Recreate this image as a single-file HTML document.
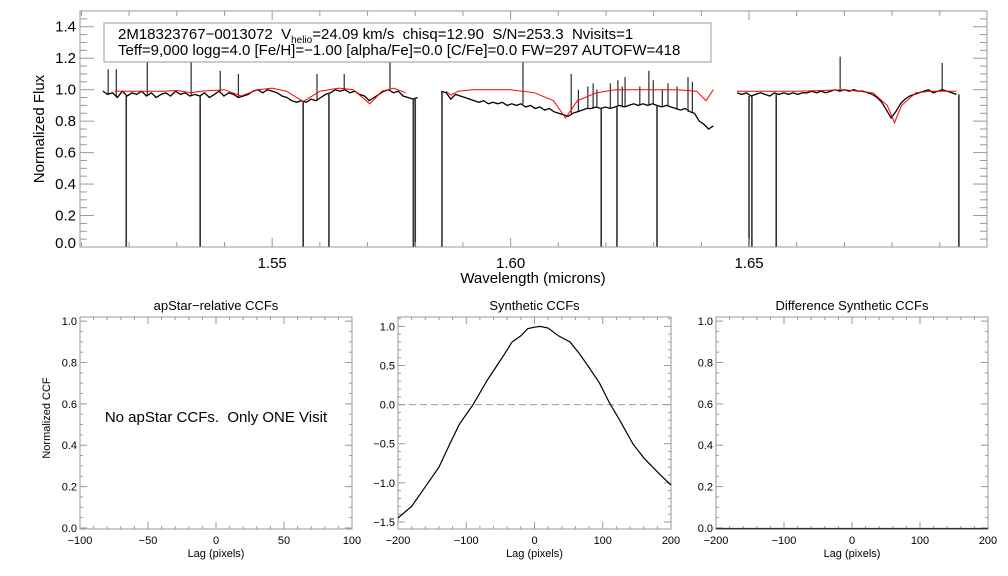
<!DOCTYPE html>
<html><head><meta charset="utf-8"><style>
body{margin:0;background:#fff;}
svg{display:block;font-family:"Liberation Sans",sans-serif;}
text{white-space:pre;}
</style></head><body>
<svg id="c" width="1008" height="576" viewBox="0 0 1008 576"></svg>
<script>
// ---- top spectrum data ----
const seg1Start=1.5145, seg1End=1.5805;
const seg1Flux=[0.99,0.97,0.98,0.95,0.99,0.96,0.98,0.97,0.99,0.96,0.98,0.95,0.97,0.98,0.96,0.99,0.97,0.98,0.96,0.97,0.96,0.98,0.95,0.97,0.99,0.96,0.98,0.97,0.95,0.96,0.97,0.99,1.00,0.98,1.00,0.99,0.98,0.96,0.95,0.93,0.92,0.93,0.92,0.94,0.93,0.95,0.97,0.98,1.00,0.99,1.00,0.98,0.99,0.97,0.96,0.93,0.95,0.97,0.99,1.00,0.98,0.99,0.96,0.95,0.94,0.95];
const seg2Start=1.5855, seg2End=1.6425;
const seg2Flux=[0.99,0.98,0.94,0.97,0.96,0.95,0.94,0.93,0.92,0.93,0.91,0.92,0.91,0.92,0.90,0.91,0.90,0.91,0.89,0.90,0.88,0.89,0.87,0.88,0.86,0.85,0.84,0.83,0.85,0.86,0.87,0.88,0.88,0.89,0.88,0.89,0.88,0.89,0.90,0.89,0.90,0.91,0.90,0.91,0.90,0.91,0.90,0.89,0.90,0.89,0.88,0.87,0.88,0.86,0.85,0.80,0.78,0.75,0.77];
const seg3Start=1.6475, seg3End=1.6935;
const seg3Flux=[0.98,0.97,0.98,0.96,0.97,0.98,0.97,0.96,0.98,0.97,0.98,0.97,0.98,0.97,0.98,0.98,0.99,0.98,0.99,0.98,0.99,1.00,0.99,1.00,0.99,1.00,0.99,0.99,0.98,0.97,0.95,0.92,0.87,0.82,0.86,0.91,0.94,0.96,0.97,0.98,0.99,1.00,0.98,0.99,1.00,0.99,0.98,0.97];
const spikeWl=[1.5156,1.5173,1.5238,1.5330,1.5391,1.5429,1.5594,1.5651,1.5747,1.6026,1.6127,1.6142,1.6162,1.6173,1.6181,1.6209,1.6225,1.6234,1.6240,1.6271,1.6290,1.6299,1.6318,1.6330,1.6349,1.6372,1.6381,1.6691,1.6905];
const spikeFlux=[1.13,1.13,1.30,1.25,1.12,1.10,1.10,1.10,1.20,1.25,1.10,1.00,1.02,1.04,1.00,1.04,1.06,1.02,1.08,1.02,1.12,1.06,1.00,1.04,1.02,1.08,1.05,1.21,1.17];
const dropWl=[1.5194,1.5349,1.5565,1.5619,1.5796,1.5800,1.5856,1.6190,1.6223,1.6307,1.6500,1.6506,1.6557,1.6940];
const model1Wl=[1.517,1.522,1.527,1.530,1.533,1.535,1.540,1.5435,1.547,1.550,1.553,1.5565,1.560,1.564,1.567,1.5705,1.573,1.5755,1.578];
const model1Flux=[0.99,0.99,0.99,0.995,0.98,0.99,1.0,0.96,1.0,1.01,0.99,0.925,0.99,1.01,1.0,0.91,0.99,1.01,0.98];
const model2Wl=[1.5865,1.5875,1.589,1.592,1.600,1.605,1.609,1.6115,1.614,1.618,1.622,1.635,1.639,1.641,1.6425];
const model2Flux=[0.99,0.965,0.99,1.0,1.0,0.98,0.93,0.82,0.93,0.98,1.0,1.0,0.99,0.93,1.0];
const model3Wl=[1.6475,1.660,1.670,1.676,1.679,1.6805,1.682,1.685,1.688,1.6935];
const model3Flux=[0.99,0.99,1.0,0.98,0.90,0.79,0.90,0.98,0.99,0.99];
const topXTicks=["1.55","1.60","1.65"];
const topYTicks=["0.0","0.2","0.4","0.6","0.8","1.0","1.2","1.4"];
// ---- CCF data ----
const ccfLag=[-200,-180,-160,-140,-124,-110,-90,-70,-55,-40,-33,-20,-10,0,8,20,35,52,65,78,95,110,125,144,160,180,200];
const ccfVal=[-1.45,-1.3,-1.05,-0.8,-0.5,-0.25,0,0.3,0.5,0.7,0.8,0.88,0.97,0.99,1.0,0.98,0.88,0.8,0.66,0.5,0.28,0.02,-0.2,-0.5,-0.68,-0.86,-1.03];
const diffLag=[-200,200];
const diffVal=[-0.003,-0.003];
const p1XTicks=["-100","-50","0","50","100"];
const p23XTicks=["-200","-100","0","100","200"];
const p13YTicks=["0.0","0.2","0.4","0.6","0.8","1.0"];
const p2YTicks=["-1.5","-1.0","-0.5","0.0","0.5","1.0"];

const svgRoot=document.getElementById('c');
const NS='http://www.w3.org/2000/svg';
function mk(tag,attrs,parent){const e=document.createElementNS(NS,tag);for(const k in attrs)e.setAttribute(k,attrs[k]);(parent||svgRoot).appendChild(e);return e;}
function lin(d0,d1,r0,r1){return v=>r0+(v-d0)*(r1-r0)/(d1-d0);}

// ---- Top panel ----
const TL=80,TR=987,TT=11,TB=247;
const tx=lin(1.5097,1.6999,TL,TR), ty=lin(0,1.5,TB,TT);
const topG=mk('g',{});


function series(wl0,wl1,arr){let pts=[];const n=arr.length;for(let i=0;i<n;i++){const w=wl0+(wl1-wl0)*i/(n-1);pts.push(tx(w).toFixed(1)+','+ty(arr[i]).toFixed(1));}return pts.join(' ');}
[[seg1Start,seg1End,seg1Flux],[seg2Start,seg2End,seg2Flux],[seg3Start,seg3End,seg3Flux]].forEach((s,i)=>{
  const p=mk('polyline',{points:series(s[0],s[1],s[2]),fill:'none',stroke:'#000','stroke-width':1.3},topG);
  
  
});
function nearFlux(w){const segs=[[seg1Start,seg1End,seg1Flux],[seg2Start,seg2End,seg2Flux],[seg3Start,seg3End,seg3Flux]];for(const s of segs){if(w>=s[0]-0.001&&w<=s[1]+0.001){const n=s[2].length;let i=Math.round((w-s[0])/(s[1]-s[0])*(n-1));i=Math.max(0,Math.min(n-1,i));return s[2][i];}}return 0.97;}
spikeWl.forEach((w,i)=>{
  const l=mk('line',{x1:tx(w),x2:tx(w),y1:ty(nearFlux(w)),y2:ty(spikeFlux[i]),stroke:'#000','stroke-width':1},topG);
  
  
});
dropWl.forEach(w=>{
  const l=mk('line',{x1:tx(w),x2:tx(w),y1:ty(nearFlux(w)),y2:ty(0),stroke:'#333','stroke-width':1.6},topG);
  
  
});
[[model1Wl,model1Flux],[model2Wl,model2Flux],[model3Wl,model3Flux]].forEach((m,i)=>{
  const p=mk('polyline',{points:m[0].map((w,j)=>tx(w).toFixed(1)+','+ty(m[1][j]).toFixed(1)).join(' '),fill:'none',stroke:'#f00','stroke-width':1},topG);
  
  
});
const tb=mk('rect',{x:TL,y:TT,width:TR-TL,height:TB-TT,fill:'none',stroke:'#999','stroke-width':1});


for(let k=151;k<=169;k++){const w=k/100;const maj=(k%5===0);const x=tx(w);
  mk('line',{x1:x,x2:x,y1:TB,y2:TB-(maj?9:5),stroke:'#999'});mk('line',{x1:x,x2:x,y1:TT,y2:TT+(maj?9:5),stroke:'#999'});}
topXTicks.forEach(t=>{const e=mk('text',{x:tx(parseFloat(t)),y:268,'font-size':15,'text-anchor':'middle',fill:'#000'});e.textContent=t;
  
  });
for(let k=0;k<=29;k++){const v=k*0.05;const maj=(k%4===0);const y=ty(v);
  mk('line',{x1:TL,x2:TL+(maj?14:7),y1:y,y2:y,stroke:'#999'});mk('line',{x1:TR,x2:TR-(maj?14:7),y1:y,y2:y,stroke:'#999'});}
topYTicks.forEach(t=>{const v=parseFloat(t);const e=mk('text',{x:76,y:Math.min(ty(v)+5,248),'font-size':15,'text-anchor':'end',fill:'#000'});e.textContent=t;
  
  });
let e=mk('text',{x:533,y:283,'font-size':15,'text-anchor':'middle'});e.textContent='Wavelength (microns)';


e=mk('text',{x:44,y:129,'font-size':15,'text-anchor':'middle',transform:'rotate(-90 44 129)'});e.textContent='Normalized Flux';


const ib=mk('g',{});


mk('rect',{x:104,y:23,width:607,height:39,fill:'#fff',stroke:'#999'},ib);
e=mk('text',{x:118,y:39,'font-size':15},ib);


e.appendChild(document.createTextNode('2M18323767−0013072  V'));
let ts=mk('tspan',{'font-size':10,dy:4},e);ts.textContent='helio';
ts=mk('tspan',{dy:-4},e);ts.textContent='=24.09 km/s  chisq=12.90  S/N=253.3  Nvisits=1';
e=mk('text',{x:118,y:55,'font-size':15},ib);
e.textContent='Teff=9,000 logg=4.0 [Fe/H]=−1.00 [alpha/Fe]=0.0 [C/Fe]=0.0 FW=297 AUTOFW=418';



// ---- Bottom panels ----
function panel(name,L,R,T,B,xd,yd,xt,yt,xmin,ymin,title){
  const g=mk('g',{});
  
  
  const fx=lin(xd[0],xd[1],L,R), fy=lin(yd[0],yd[1],B,T);
  mk('rect',{x:L,y:T,width:R-L,height:B-T,fill:'none',stroke:'#999'},g);
  for(let k=Math.ceil(xd[0]/xmin);k*xmin<=xd[1]+1e-9;k++){const v=k*xmin;const x=fx(v);const maj=xt.some(t=>Math.abs(parseFloat(t)-v)<1e-6);
    mk('line',{x1:x,x2:x,y1:B,y2:B-(maj?7:3),stroke:'#999'},g);mk('line',{x1:x,x2:x,y1:T,y2:T+(maj?7:3),stroke:'#999'},g);}
  xt.forEach(t=>{const e=mk('text',{x:fx(parseFloat(t)),y:B+15,'font-size':11,'text-anchor':'middle'},g);e.textContent=t.replace('-','−');
    
    });
  for(let k=Math.ceil(yd[0]/ymin);k*ymin<=yd[1]+1e-9;k++){const v=k*ymin;const y=fy(v);const maj=yt.some(t=>Math.abs(parseFloat(t)-v)<1e-6);
    mk('line',{x1:L,x2:L+(maj?7:3),y1:y,y2:y,stroke:'#999'},g);mk('line',{x1:R,x2:R-(maj?7:3),y1:y,y2:y,stroke:'#999'},g);}
  yt.forEach(t=>{const e=mk('text',{x:L-3,y:fy(parseFloat(t))+4,'font-size':11,'text-anchor':'end'},g);e.textContent=t.replace('-','−');
    
    });
  let e=mk('text',{x:(L+R)/2,y:310,'font-size':13,'text-anchor':'middle'},g);e.textContent=title;
  
  
  e=mk('text',{x:(L+R)/2,y:557,'font-size':11,'text-anchor':'middle'},g);e.textContent='Lag (pixels)';
  
  
  return {g,fx,fy};
}
const p1=panel('apstar-ccf-panel',80,352,317,529,[-100,100],[-0.005,1.02],p1XTicks,p13YTicks,10,0.05,'apStar−relative CCFs');
e=mk('text',{x:216,y:422,'font-size':15,'text-anchor':'middle'},p1.g);e.textContent='No apStar CCFs.  Only ONE Visit';


e=mk('text',{x:50,y:418,'font-size':11,'text-anchor':'middle',transform:'rotate(-90 50 418)'});e.textContent='Normalized CCF';



const p2=panel('synthetic-ccf-panel',398,671,317,529,[-200,200],[-1.59,1.12],p23XTicks,p2YTicks,20,0.1,'Synthetic CCFs');
e=mk('line',{x1:398,x2:671,y1:p2.fy(0),y2:p2.fy(0),stroke:'#999','stroke-dasharray':'7,4'},p2.g);


e=mk('polyline',{points:ccfLag.map((l,i)=>p2.fx(l).toFixed(1)+','+p2.fy(ccfVal[i]).toFixed(1)).join(' '),fill:'none',stroke:'#000','stroke-width':1.2},p2.g);



const p3=panel('difference-ccf-panel',716,988,317,529,[-200,200],[-0.005,1.02],p23XTicks,p13YTicks,20,0.05,'Difference Synthetic CCFs');
e=mk('polyline',{points:diffLag.map((l,i)=>p3.fx(l).toFixed(1)+','+p3.fy(diffVal[i]).toFixed(1)).join(' '),fill:'none',stroke:'#333','stroke-width':1.5},p3.g);


</script>
</body></html>
